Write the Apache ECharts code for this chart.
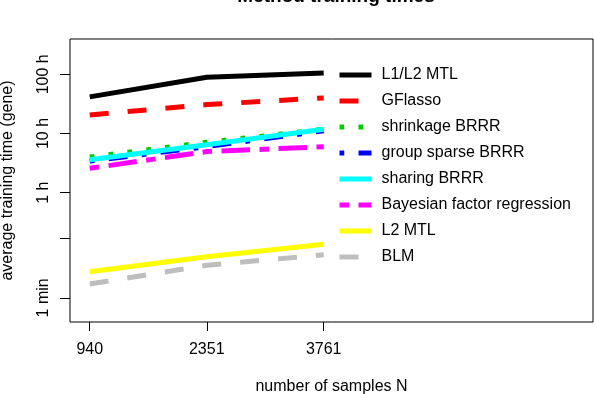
<!DOCTYPE html>
<html>
<head>
<meta charset="utf-8">
<script src="https://cdn.jsdelivr.net/npm/echarts@6/dist/echarts.min.js"></script>
<style>
  html, body { margin: 0; padding: 0; background: #fff; }
  #chart { width: 594px; height: 394px; }
</style>
</head>
<body>
<div id="chart"></div>
<script>
// sample sizes on the x axis
const samples = [940, 2351, 3761];

// average training time per gene, in hours
const l1l2Mtl = [41.6, 89.3, 105];
const gflasso = [20.6, 30.8, 40];
const shrinkageBrrr = [4.0, 7.1, 11.8];
const groupSparseBrrr = [3.42, 6.0, 11.1];
const sharingBrrr = [3.6, 6.46, 11.8];
const bayesFactorReg = [2.58, 4.95, 5.97];
const l2Mtl = [0.046, 0.0826, 0.134];
const blm = [0.0286, 0.0593, 0.0889];

// y ticks (hours) and their labels
const yTickValues = [1 / 60, 1 / 6, 1, 10, 100];
const yTickLabels = ['1 min', '', '1 h', '10 h', '100 h'];

const FONT = 'Liberation Sans';

const chart = echarts.init(document.getElementById('chart'), null, { renderer: 'canvas' });

// R line types, scaled
const DASHED = [19, 19];
const DOTTED = [4.75, 14.25];
const DOTDASH = [4.75, 14.25, 19, 14.25];
const TWODASH = [9.5, 9.5, 28.5, 9.5];

function makeSeries(name, values, color, type) {
  return {
    name: name,
    type: 'line',
    symbol: 'none',
    animation: false,
    data: samples.map((s, i) => [s, values[i]]),
    lineStyle: { color: color, width: 5, type: type },
    itemStyle: { color: color }
  };
}

const series = [
  makeSeries('L1/L2 MTL', l1l2Mtl, '#000000', 'solid'),
  makeSeries('GFlasso', gflasso, '#ff0000', DASHED),
  makeSeries('shrinkage BRRR', shrinkageBrrr, '#00cd00', DOTTED),
  makeSeries('group sparse BRRR', groupSparseBrrr, '#0000ff', DOTDASH),
  makeSeries('sharing BRRR', sharingBrrr, '#00ffff', 'solid'),
  makeSeries('Bayesian factor regression', bayesFactorReg, '#ff00ff', TWODASH),
  makeSeries('L2 MTL', l2Mtl, '#ffff00', 'solid'),
  makeSeries('BLM', blm, '#bebebe', DASHED)
];

const option = {
  backgroundColor: '#fff',
  animation: false,
  textStyle: { fontFamily: FONT },
  title: {
    text: 'Method training times',
    left: 331,
    textAlign: 'center',
    top: -18,
    textStyle: { fontFamily: FONT, fontSize: 19, fontWeight: 'bold', color: '#000' }
  },
  grid: {
    left: 70, right: 1, top: 39, bottom: 72,
    show: true, borderColor: '#000', borderWidth: 1,
    containLabel: false,
    outerBoundsMode: 'none'
  },
  legend: {
    orient: 'vertical',
    left: 337,
    top: 67,
    padding: 0,
    itemWidth: 32,
    itemHeight: 14,
    itemGap: 10,
    selectedMode: false,
    itemStyle: { opacity: 0, borderWidth: 0 },
    lineStyle: { width: 5 },
    textStyle: { fontFamily: FONT, fontSize: 16, color: '#000', padding: [0, 0, 0, 5] }
  },
  xAxis: {
    type: 'value',
    min: 702,
    max: 7008,
    name: 'number of samples N',
    nameLocation: 'middle',
    nameGap: 57,
    nameTextStyle: { fontFamily: FONT, fontSize: 16, color: '#000' },
    axisLine: { show: false },
    splitLine: { show: false },
    axisTick: { show: true, length: 9, lineStyle: { color: '#000' }, customValues: samples },
    axisLabel: {
      fontFamily: FONT, fontSize: 16, color: '#000', margin: 20, customValues: samples,
      formatter: function (v) { return String(v); }
    }
  },
  yAxis: {
    type: 'log',
    logBase: 10,
    min: 0.0065,
    max: 396,
    name: 'average training time (gene)',
    nameLocation: 'middle',
    nameRotate: 90,
    nameGap: 54,
    nameTextStyle: { fontFamily: FONT, fontSize: 16, color: '#000' },
    axisLine: { show: false },
    splitLine: { show: false },
    axisTick: { show: true, length: 10, lineStyle: { color: '#000' }, customValues: yTickValues },
    axisLabel: {
      fontFamily: FONT, fontSize: 16, color: '#000', rotate: 90, margin: 18,
      customValues: yTickValues,
      formatter: function (v) {
        for (let i = 0; i < yTickValues.length; i++) {
          if (Math.abs(Math.log10(v) - Math.log10(yTickValues[i])) < 1e-6) return yTickLabels[i];
        }
        return '';
      }
    }
  },
  series: series
};

chart.setOption(option);
</script>
</body>
</html>
